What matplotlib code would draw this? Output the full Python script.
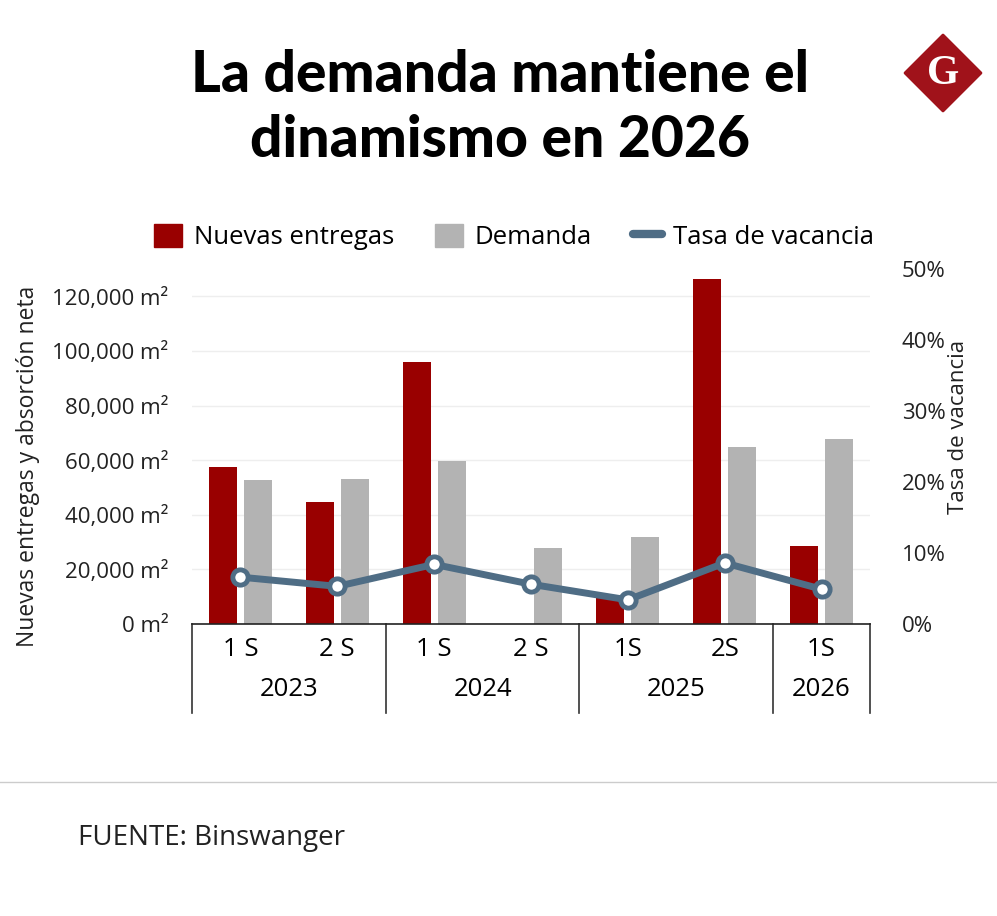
import numpy as np
import matplotlib
matplotlib.use('Agg')
import matplotlib.pyplot as plt
from matplotlib.patches import Polygon, Patch
from matplotlib.lines import Line2D
from matplotlib.ticker import FuncFormatter, MultipleLocator
import matplotlib.transforms as mtransforms

plt.rcParams['font.family'] = ['Open Sans', 'DejaVu Sans']

# ==================== datos ====================
semestres = ['1 S', '2 S', '1 S', '2 S', '1S', '2S', '1S']
anios = ['2023', '2024', '2025', '2026']
semestres_por_anio = [2, 2, 2, 1]
nuevas_entregas = [57400, 44600, 95900, 0, 9500, 126300, 28600]   # m2
demanda = [52800, 53100, 59600, 27800, 31900, 64800, 67800]        # m2
tasa_vacancia = [6.6, 5.3, 8.4, 5.6, 3.4, 8.6, 4.9]               # %

ROJO = '#990000'
GRIS = '#b3b3b3'
AZUL = '#4f6d85'

W, H = 997, 916
fig = plt.figure(figsize=(W / 100, H / 100), dpi=100)
ax = fig.add_axes([192 / W, 1 - 624 / H, (870 - 192) / W, (624 - 269) / H])

x = np.arange(len(semestres))
ancho = 0.29
ax.bar(x - 0.18, nuevas_entregas, width=ancho, color=ROJO, zorder=2)
ax.bar(x + 0.18, demanda, width=ancho, color=GRIS, zorder=2)

ax.set_xlim(-0.5, len(semestres) - 0.5)
ax.set_ylim(0, 130000)
ax.yaxis.set_major_locator(MultipleLocator(20000))
ax.yaxis.set_major_formatter(FuncFormatter(lambda v, p: f'{v:,.0f} m²'))
ax.tick_params(axis='y', length=0, pad=17, labelsize=16, labelcolor='#222222')
ax.set_xticks([])
ax.grid(axis='y', color='#eeeeee', linewidth=1)
ax.set_axisbelow(True)
for s in ['top', 'right', 'left']:
    ax.spines[s].set_visible(False)
ax.spines['bottom'].set_color('#222222')
ax.spines['bottom'].set_linewidth(1.2)

# eje derecho: tasa de vacancia
ax2 = ax.twinx()
ax2.plot(x, tasa_vacancia, color=AZUL, linewidth=5, marker='o', markersize=11,
         markerfacecolor='white', markeredgecolor=AZUL, markeredgewidth=3.5, zorder=3)
ax2.set_ylim(0, 50)
ax2.yaxis.set_major_locator(MultipleLocator(10))
ax2.yaxis.set_major_formatter(FuncFormatter(lambda v, p: f'{v:.0f}%'))
ax2.tick_params(axis='y', length=0, pad=23, labelsize=16, labelcolor='#222222')
for s in ['top', 'right', 'left', 'bottom']:
    ax2.spines[s].set_visible(False)

# tabla de categorias bajo el eje
trans = mtransforms.blended_transform_factory(ax.transData, ax.transAxes)
fondo_tabla = -89 / 355
limites = [-0.5]
for n in semestres_por_anio:
    limites.append(limites[-1] + n)
for b in limites:
    ax.plot([b, b], [0, fondo_tabla], transform=trans, color='#333333', linewidth=1.2,
            clip_on=False)
for i, s in enumerate(semestres):
    ax.text(i, -26 / 355, s, transform=trans, ha='center', va='center', fontsize=18.5,
            color='black')
for i, a in enumerate(anios):
    centro = (limites[i] + limites[i + 1]) / 2
    ax.text(centro, -66 / 355, a, transform=trans, ha='center', va='center', fontsize=18.5,
            color='black')

# etiquetas de ejes
fig.text(28 / W, 1 - 466 / H, 'Nuevas entregas y absorción neta', rotation=90,
         ha='center', va='center', fontsize=16.5, color='#222222')
fig.text(958 / W, 1 - 427 / H, 'Tasa de vacancia', rotation=90,
         ha='center', va='center', fontsize=16, color='#222222')

# leyenda
handles = [Patch(color=ROJO), Patch(color=GRIS),
           Line2D([0], [0], color=AZUL, linewidth=6, solid_capstyle='round')]
fig.legend(handles, ['Nuevas entregas', 'Demanda', 'Tasa de vacancia'],
           loc='center', bbox_to_anchor=(514 / W, 1 - 237 / H), ncol=3, frameon=False,
           fontsize=18.5, handlelength=1.1, handleheight=1.0, handletextpad=0.45,
           columnspacing=1.6, borderpad=0)

# titulo
fig.text(500 / W, 1 - 108 / H, 'La demanda mantiene el\ndinamismo en 2026',
         ha='center', va='center', fontsize=41, fontweight='black',
         family=['Lato', 'DejaVu Sans'], linespacing=1.28, color='black')

# logo
rombo = Polygon([[943 / W, 1 - 35 / H], [981 / W, 1 - 73 / H],
                 [943 / W, 1 - 111 / H], [905 / W, 1 - 73 / H]],
                closed=True, transform=fig.transFigure, facecolor='#a0121a',
                edgecolor='#a0121a', linewidth=2, joinstyle='round')
fig.patches.append(rombo)
fig.text(943 / W, 1 - 74 / H, 'G', ha='center', va='center', fontsize=30,
         fontweight='bold', family=['Liberation Serif', 'DejaVu Serif'], color='white')

# pie
fig.add_artist(Line2D([0, 1], [1 - 782 / H, 1 - 782 / H], transform=fig.transFigure,
                      color='#cccccc', linewidth=1))
fig.text(78 / W, 1 - 838 / H, 'FUENTE: Binswanger', ha='left', va='center',
         fontsize=20, color='#222222')

fig.savefig('out.png', dpi=100, facecolor='white')
